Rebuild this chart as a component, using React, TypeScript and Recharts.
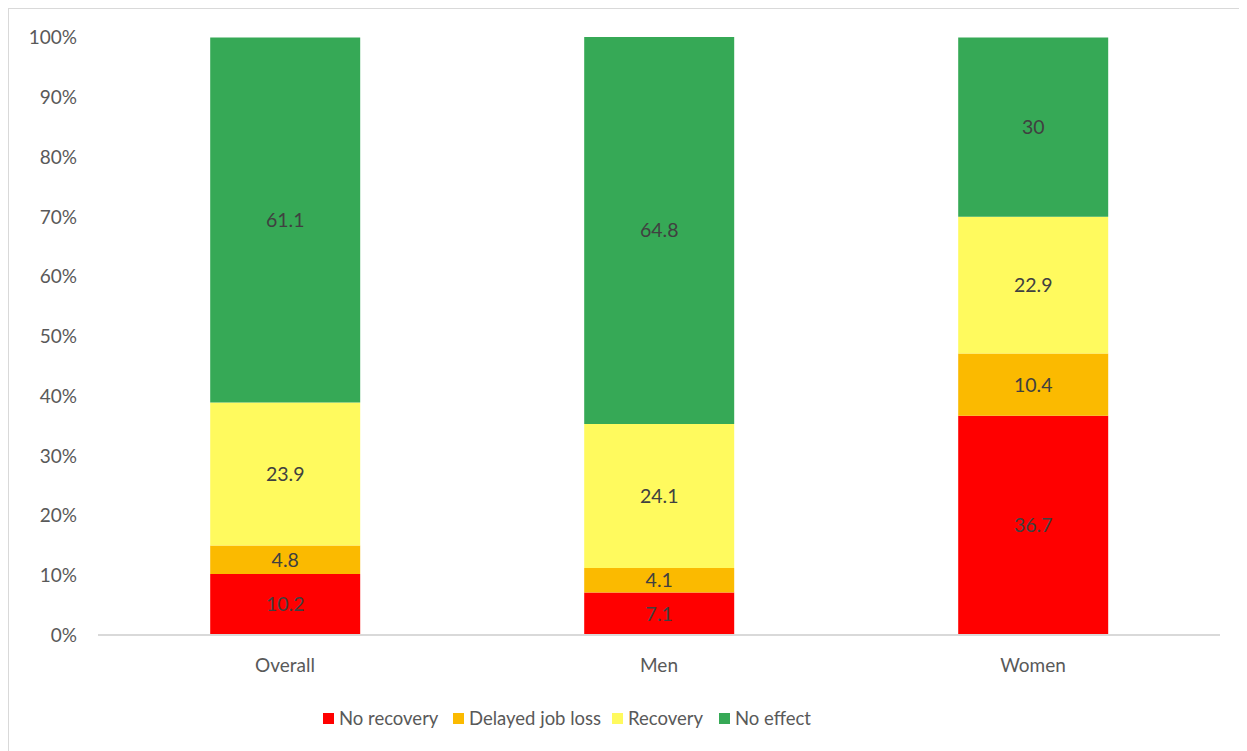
import { BarChart, Bar, XAxis, YAxis, Legend, LabelList } from "recharts";

const categories = ["Overall", "Men", "Women"];
const noRecovery = [10.2, 7.1, 36.7];
const delayedJobLoss = [4.8, 4.1, 10.4];
const recovery = [23.9, 24.1, 22.9];
const noEffect = [61.1, 64.8, 30];
const yTicks = [0, 10, 20, 30, 40, 50, 60, 70, 80, 90, 100];

const SERIES = [
  { key: "noRecovery", name: "No recovery", color: "#FF0000", w: 130 },
  { key: "delayedJobLoss", name: "Delayed job loss", color: "#FBBA00", w: 159 },
  { key: "recovery", name: "Recovery", color: "#FFFA5E", w: 107 },
  { key: "noEffect", name: "No effect", color: "#36A956", w: 100 },
];

const data = categories.map((name, i) => ({
  name,
  noRecovery: noRecovery[i],
  delayedJobLoss: delayedJobLoss[i],
  recovery: recovery[i],
  noEffect: noEffect[i],
}));

const FONT = "Lato, 'Open Sans', sans-serif";

const renderLegend = () => (
  <div
    style={{
      display: "flex",
      alignItems: "center",
      height: 30,
      paddingLeft: 285,
      fontFamily: FONT,
      fontSize: 18.5,
      color: "#595959",
    }}
  >
    {SERIES.map((s) => (
      <div key={s.key} style={{ display: "flex", alignItems: "center", width: s.w, whiteSpace: "nowrap" }}>
        <div style={{ width: 11, height: 11, background: s.color, marginRight: 5, flexShrink: 0 }} />
        <span>{s.name}</span>
      </div>
    ))}
  </div>
);

export default function App() {
  return (
    <div
      style={{
        width: 1238,
        height: 742,
        border: "1px solid #d9d9d9",
        background: "#fff",
      }}
    >
      <BarChart
        width={1238}
        height={742}
        data={data}
        margin={{ top: 28, right: 27, bottom: 18, left: 29 }}
        barCategoryGap="30%"
      >
        <XAxis
          dataKey="name"
          height={68}
          tickLine={false}
          tickSize={0}
          tickMargin={24}
          axisLine={{ stroke: "#d9d9d9", strokeWidth: 2 }}
          tick={{ fill: "#595959", fontSize: 19, fontFamily: FONT }}
        />
        <YAxis
          type="number"
          domain={[0, 100]}
          ticks={yTicks}
          width={60}
          tickLine={false}
          tickSize={0}
          tickMargin={21}
          axisLine={false}
          tickFormatter={(v) => `${v}%`}
          tick={{ fill: "#595959", fontSize: 19, fontFamily: FONT }}
        />
        <Legend verticalAlign="bottom" content={renderLegend} />
        {SERIES.map((s) => (
          <Bar
            key={s.key}
            dataKey={s.key}
            name={s.name}
            stackId="a"
            fill={s.color}
            isAnimationActive={false}
          >
            <LabelList
              dataKey={s.key}
              position="center"
              fill="#404040"
              fontSize={19.5}
              fontFamily={FONT}
            />
          </Bar>
        ))}
      </BarChart>
    </div>
  );
}
